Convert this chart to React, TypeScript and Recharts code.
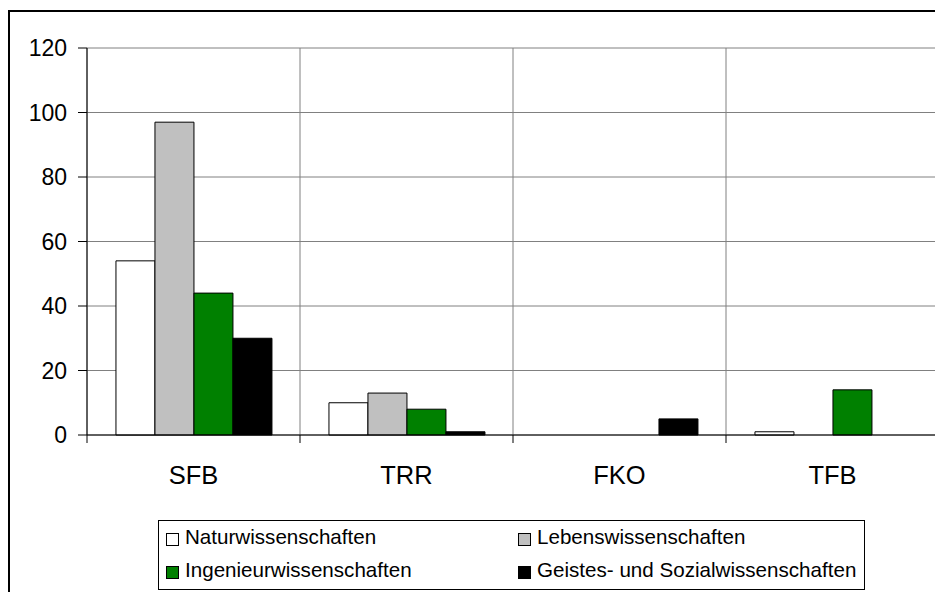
import { Bar, BarChart, CartesianGrid, XAxis, YAxis } from "recharts";

const categories = ["SFB", "TRR", "FKO", "TFB"];
const seriesNames = [
  "Naturwissenschaften",
  "Lebenswissenschaften",
  "Ingenieurwissenschaften",
  "Geistes- und Sozialwissenschaften",
];
const natur = [54, 10, 0, 1];
const leben = [97, 13, 0, 0];
const ingenieur = [44, 8, 0, 14];
const geistes = [30, 1, 5, 0];
const yTicks = [0, 20, 40, 60, 80, 100, 120];

const seriesValues = [natur, leben, ingenieur, geistes];
const seriesColors = ["#ffffff", "#c0c0c0", "#008000", "#000000"];
const keys = ["s0", "s1", "s2", "s3"];

const data = categories.map((cat, i) => {
  const row: Record<string, string | number> = { cat };
  seriesValues.forEach((vals, s) => (row[keys[s]] = vals[i]));
  return row;
});

const W = 935;
const H = 584;
const M = { top: 40, right: 4, left: 19, bottom: 107 };
const Y_W = 60;
const PLOT_W = W - M.left - M.right - Y_W;
const BAND = PLOT_W / categories.length;
const FONT = "'Liberation Sans', Arial, sans-serif";

const XTick = (props: any) => {
  const { x, y, payload, index } = props;
  const half = BAND / 2;
  return (
    <g>
      <line x1={x - half} x2={x - half} y1={y} y2={y + 8} stroke="#000" />
      {index === categories.length - 1 && (
        <line x1={x + half} x2={x + half} y1={y} y2={y + 8} stroke="#000" />
      )}
      <text
        x={x}
        y={y + 40}
        textAnchor="middle"
        dominantBaseline="central"
        fill="#000"
        fontSize={25.5}
        fontFamily={FONT}
      >
        {payload.value}
      </text>
    </g>
  );
};

export default function App() {
  return (
    <div style={{ position: "relative", width: W, height: H, fontFamily: FONT }}>
      <div
        style={{
          position: "absolute",
          left: 0,
          top: 2,
          right: 0,
          bottom: 0,
          borderTop: "2px solid #000",
          borderLeft: "2px solid #000",
        }}
      />
      <div style={{ position: "absolute", left: 0, top: 0 }}>
        <BarChart
          width={W}
          height={H}
          data={data}
          margin={M}
          barCategoryGap="13.6%"
          barGap={0}
        >
          <CartesianGrid
            stroke="#808080"
            verticalCoordinatesGenerator={({ offset }: any) =>
              categories
                .map((_, i) => offset.left + (i * offset.width) / categories.length)
                .concat(offset.left + offset.width)
            }
          />
          <XAxis
            dataKey="cat"
            interval={0}
            tickLine={false}
            tickSize={0}
            tickMargin={0}
            height={50}
            axisLine={{ stroke: "#000" }}
            tick={<XTick />}
          />
          <YAxis
            width={Y_W}
            domain={[0, 120]}
            ticks={yTicks}
            tickSize={9}
            tickMargin={11}
            axisLine={{ stroke: "#000" }}
            tickLine={{ stroke: "#000" }}
            tick={{ fill: "#000", fontSize: 23, fontFamily: FONT }}
          />
          {keys.map((k, s) => (
            <Bar
              key={k}
              dataKey={k}
              name={seriesNames[s]}
              fill={seriesColors[s]}
              stroke="#000"
              strokeWidth={1}
              isAnimationActive={false}
            />
          ))}
        </BarChart>
      </div>
      <div
        style={{
          position: "absolute",
          left: 150,
          top: 512,
          width: 707,
          height: 70,
          border: "1px solid #000",
          boxSizing: "border-box",
          fontSize: 20.6,
          color: "#000",
        }}
      >
        {seriesNames.map((name, s) => (
          <div
            key={name}
            style={{
              position: "absolute",
              left: s % 2 === 0 ? 7 : 359,
              top: s < 2 ? 3 : 36,
              display: "flex",
              alignItems: "center",
              whiteSpace: "nowrap",
              lineHeight: "26px",
            }}
          >
            <span
              style={{
                display: "inline-block",
                width: 11,
                height: 11,
                background: seriesColors[s],
                border: "1px solid #000",
                marginRight: 6,
                marginTop: 4,
              }}
            />
            {name}
          </div>
        ))}
      </div>
    </div>
  );
}
